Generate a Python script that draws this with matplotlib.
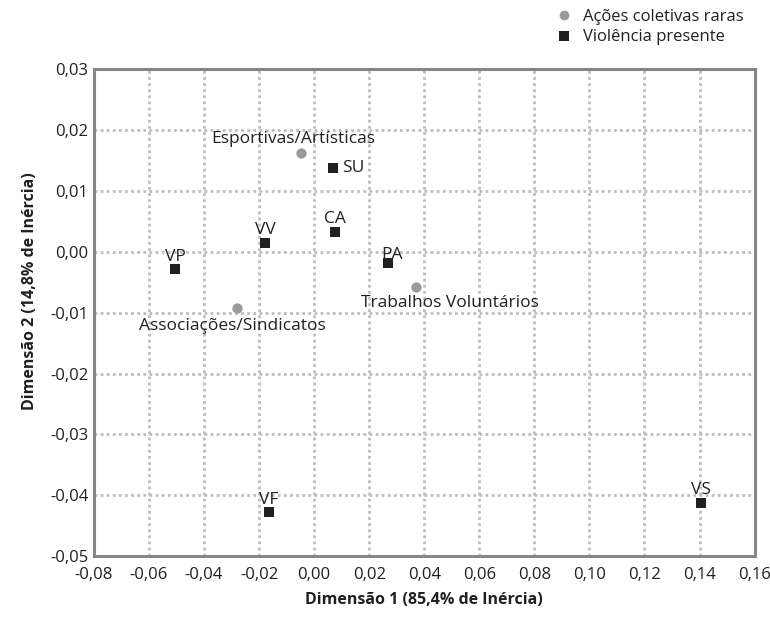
import matplotlib
matplotlib.use("Agg")
import matplotlib.pyplot as plt
from matplotlib.lines import Line2D
from matplotlib.ticker import FuncFormatter, MultipleLocator

plt.rcParams['font.family'] = ['Open Sans', 'DejaVu Sans']

# Ações coletivas raras (grey circles)
acoes_nomes = ["Esportivas/Artísticas", "Associações/Sindicatos", "Trabalhos Voluntários"]
acoes_x = [-0.0047, -0.0280, 0.0371]
acoes_y = [0.0163, -0.0093, -0.0057]

# Violência presente (black squares)
viol_nomes = ["SU", "CA", "VV", "VP", "PA", "VF", "VS"]
viol_x = [0.0069, 0.0076, -0.0178, -0.0505, 0.0269, -0.0164, 0.1407]
viol_y = [0.0137, 0.0033, 0.0015, -0.0029, -0.0018, -0.0428, -0.0413]

cinza = "#9a9a9a"
preto = "#231f20"

fig = plt.figure(figsize=(7.7, 6.18), dpi=100)
ax = fig.add_axes([0.122, 0.100, 0.858, 0.788])

ax.set_xlim(-0.08, 0.16)
ax.set_ylim(-0.05, 0.03)
ax.xaxis.set_major_locator(MultipleLocator(0.02))
ax.yaxis.set_major_locator(MultipleLocator(0.01))
fmt = FuncFormatter(lambda v, p: f"{v:.2f}".replace(".", ",").replace("-0,00", "0,00"))
ax.xaxis.set_major_formatter(fmt)
ax.yaxis.set_major_formatter(fmt)
ax.tick_params(length=0, labelsize=12, colors=preto)
ax.tick_params(axis="x", pad=8)
ax.tick_params(axis="y", pad=4)

ax.grid(True, color="#bdbdbd", linestyle=(0, (1, 1.2)), linewidth=2)
ax.set_axisbelow(True)
for s in ax.spines.values():
    s.set_color("#878787")
    s.set_linewidth(2.2)

ax.scatter(acoes_x, acoes_y, s=55, color=cinza, marker="o", zorder=3, linewidths=0)
ax.scatter(viol_x, viol_y, s=62, color=preto, marker="s", zorder=3, linewidths=0)

txt = dict(fontsize=12.5, color=preto, zorder=4, textcoords="offset points")
# rótulos dos círculos
ax.annotate(acoes_nomes[0], (acoes_x[0], acoes_y[0]), xytext=(-6, 4),
            ha="center", va="bottom", **txt)
ax.annotate(acoes_nomes[1], (acoes_x[1], acoes_y[1]), xytext=(-3.5, -7),
            ha="center", va="top", **txt)
ax.annotate(acoes_nomes[2], (acoes_x[2], acoes_y[2]), xytext=(-40, -6),
            ha="left", va="top", **txt)
# rótulos dos quadrados
for n, x, y in zip(viol_nomes, viol_x, viol_y):
    if n == "SU":
        ax.annotate(n, (x, y), xytext=(6.5, 0), ha="left", va="center", **txt)
    elif n == "PA":
        ax.annotate(n, (x, y), xytext=(3, 0), ha="center", va="bottom", **txt)
    else:
        ax.annotate(n, (x, y), xytext=(0, 3.5), ha="center", va="bottom", **txt)

ax.set_xlabel("Dimensão 1 (85,4% de Inércia)", fontsize=11.5, fontweight="bold",
              color=preto, labelpad=6)
ax.set_ylabel("Dimensão 2 (14,8% de Inércia)", fontsize=11.5, fontweight="bold",
              color=preto)
ax.yaxis.set_label_coords(-0.085, 0.545)

handles = [
    Line2D([], [], linestyle="none", marker="o", markersize=7, color=cinza,
           markeredgewidth=0, label="Ações coletivas raras"),
    Line2D([], [], linestyle="none", marker="s", markersize=7, color=preto,
           markeredgewidth=0, label="Violência presente"),
]
fig.legend(handles=handles, loc="upper left", bbox_to_anchor=(0.722, 0.985),
           frameon=False, fontsize=12, handlelength=1, handletextpad=0.6,
           labelspacing=0.25, borderpad=0, borderaxespad=0, labelcolor=preto)

fig.savefig("out.png", dpi=100)
